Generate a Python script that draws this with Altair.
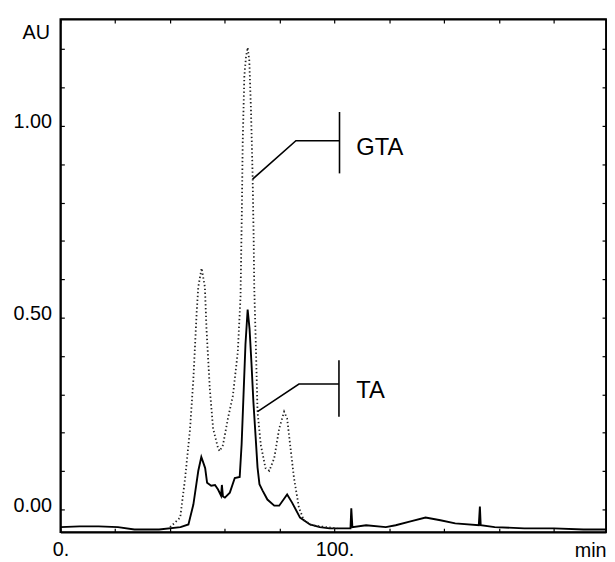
import altair as alt
import pandas as pd

# ---- data ----
ta_time = [0, 7, 14, 21, 27, 36, 43.8, 46.7, 48.5, 50.3, 51.4, 52.8, 53.5, 55.0, 56.4,
           57.5, 58.6, 58.9, 59.3, 60.0, 61.8, 63.6, 65.4, 66.1, 66.8, 67.5, 68.3, 69.0,
           69.7, 70.4, 71.2, 71.9, 72.6, 73.7, 75.5, 78.0, 79.8, 82.7, 84.5, 87.4, 91.0,
           94.6, 98.2, 104.3, 105.8, 106.1, 106.5, 111.5, 118.7, 122.3, 127.7, 133.2,
           138.6, 144.0, 152.6, 153.0, 153.3, 158.4, 169.2, 180.0, 190.8, 199]
ta_au = [-0.046, -0.044, -0.044, -0.046, -0.052, -0.052, -0.046, -0.039, 0.013, 0.101,
         0.137, 0.108, 0.070, 0.062, 0.064, 0.052, 0.036, 0.064, 0.034, 0.031, 0.044,
         0.082, 0.085, 0.170, 0.300, 0.430, 0.521, 0.470, 0.380, 0.280, 0.190, 0.110,
         0.066, 0.050, 0.026, 0.010, 0.010, 0.039, 0.018, -0.021, -0.039, -0.046,
         -0.049, -0.049, -0.049, 0.003, -0.046, -0.041, -0.046, -0.041, -0.031, -0.021,
         -0.028, -0.036, -0.041, 0.008, -0.041, -0.046, -0.049, -0.049, -0.052, -0.052]

gta_time = [40.0, 43.7, 45.5, 47.3, 48.5, 49.7, 50.3, 51.5, 52.7, 53.3, 54.5, 55.7, 57.5,
            58.1, 59.3, 61.1, 62.9, 64.7, 65.7, 66.2, 66.5, 67.1, 67.7, 68.3, 68.9, 69.5,
            70.1, 70.5, 70.7, 71.3, 71.9, 73.1, 74.8, 76.2, 78.0, 79.8, 81.6, 82.7, 83.8,
            85.2, 87.0, 88.8, 91.7, 97.1, 101.0]
gta_au = [-0.046, -0.021, 0.082, 0.211, 0.340, 0.513, 0.580, 0.629, 0.580, 0.469, 0.314,
          0.211, 0.160, 0.152, 0.168, 0.237, 0.296, 0.410, 0.554, 0.786, 0.959, 1.131,
          1.180, 1.204, 1.170, 1.044, 0.874, 0.701, 0.580, 0.425, 0.255, 0.168, 0.108,
          0.101, 0.134, 0.211, 0.255, 0.237, 0.168, 0.082, 0.005, -0.028, -0.041, -0.046,
          -0.049]

x_ticks = [0, 20, 40, 60, 80, 100, 120, 140, 160, 180]
y_ticks = [0.0, 0.1, 0.2, 0.3, 0.4, 0.5, 0.6, 0.7, 0.8, 0.9, 1.0, 1.1, 1.2]

# callout annotations (data units)
callout_names = ["GTA", "TA"]
callout_x = [[70.1, 85.9, 101.8], [71.9, 87.0, 101.6]]
callout_y = [[0.861, 0.961, 0.961], [0.255, 0.327, 0.327]]
bar_x = [101.8, 101.6]
bar_y1 = [0.876, 0.242]
bar_y2 = [1.036, 0.389]
label_x = [107.9, 107.9]
label_y = [0.943, 0.309]

X_DOMAIN = [0, 199]
Y_DOMAIN = [-0.059, 1.278]

ta_df = pd.DataFrame({"t": ta_time, "au": ta_au})
gta_df = pd.DataFrame({"t": gta_time, "au": gta_au})
call_rows = []
for name, xs_, ys_ in zip(callout_names, callout_x, callout_y):
    for i, (xx, yy) in enumerate(zip(xs_, ys_)):
        call_rows.append({"name": name, "i": i, "t": xx, "au": yy})
call_df = pd.DataFrame(call_rows)
bar_df = pd.DataFrame({"name": callout_names, "t": bar_x, "y1": bar_y1, "y2": bar_y2})
lab_df = pd.DataFrame({"name": callout_names, "t": label_x, "au": label_y})

xs = alt.Scale(domain=X_DOMAIN, nice=False, zero=False)
ys = alt.Scale(domain=Y_DOMAIN, nice=False, zero=False)

FONT = "Liberation Sans"
FRAME_W = 1.8

# frame + labels (bottom / left)
x_bottom = alt.Axis(orient="bottom", values=x_ticks,
                    labelExpr="datum.value == 0 || datum.value == 100 ? datum.value + '.' : ''",
                    ticks=False, tickSize=0, domain=True, domainColor="black",
                    domainWidth=FRAME_W, grid=False,
                    labelFontSize=20, labelFont=FONT, labelColor="black", labelPadding=8,
                    labelOverlap=False, labelFlush=False,
                    title="min", titleX=552, titleY=25, titleAlign="right",
                    titleBaseline="alphabetic", titleFontSize=20, titleFont=FONT,
                    titleFontWeight="normal", titleColor="black")
y_left = alt.Axis(orient="left", values=y_ticks,
                  labelExpr="datum.value == 0 || datum.value == 0.5 || datum.value == 1 ? format(datum.value, '.2f') : ''",
                  ticks=False, tickSize=0, domain=True, domainColor="black",
                  domainWidth=FRAME_W, grid=False,
                  labelFontSize=20, labelFont=FONT, labelColor="black", labelPadding=9,
                  labelOffset=-4, labelOverlap=False, labelFlush=False,
                  title="AU", titleAngle=0, titleAlign="right", titleBaseline="middle",
                  titleX=-11, titleY=13.5, titleFontSize=20, titleFont=FONT,
                  titleFontWeight="normal", titleColor="black")
# frame (top / right)
x_top = alt.Axis(orient="top", values=x_ticks, labels=False, ticks=False, tickSize=0,
                 domain=True, domainColor="black", domainWidth=FRAME_W, grid=False,
                 title=None)
y_right = alt.Axis(orient="right", values=y_ticks, labels=False, ticks=False, tickSize=0,
                   domain=True, domainColor="black", domainWidth=FRAME_W, grid=False,
                   title=None)


def inward(orient, vals):
    return alt.Axis(orient=orient, values=vals, labels=False, tickSize=4, offset=-4,
                    domain=False, grid=False, tickColor="black", tickWidth=1.2,
                    title=None)


ta_line = alt.Chart(ta_df).mark_line(color="black", strokeWidth=1.9).encode(
    x=alt.X("t:Q", scale=xs, axis=x_bottom),
    y=alt.Y("au:Q", scale=ys, axis=y_left),
)
gta_line = alt.Chart(gta_df).mark_line(color="#222222", strokeWidth=1.8,
                                       strokeDash=[1.4, 2.5]).encode(
    x=alt.X("t:Q", scale=xs, axis=x_top),
    y=alt.Y("au:Q", scale=ys, axis=y_right),
)
call_lines = alt.Chart(call_df).mark_line(color="black", strokeWidth=1.6).encode(
    x=alt.X("t:Q", scale=xs, axis=inward("bottom", x_ticks)),
    y=alt.Y("au:Q", scale=ys, axis=inward("left", y_ticks)),
    detail="name:N",
    order="i:Q",
)
bars = alt.Chart(bar_df).mark_rule(color="black", strokeWidth=1.6).encode(
    x=alt.X("t:Q", scale=xs, axis=inward("top", x_ticks)),
    y=alt.Y("y1:Q", scale=ys, axis=inward("right", y_ticks)),
    y2="y2:Q",
)
labels = alt.Chart(lab_df).mark_text(align="left", baseline="middle", fontSize=24,
                                     font=FONT, color="black").encode(
    x=alt.X("t:Q", scale=xs, axis=None),
    y=alt.Y("au:Q", scale=ys, axis=None),
    text="name:N",
)

chart = alt.layer(ta_line, gta_line, call_lines, bars, labels).resolve_axis(
    x="independent", y="independent"
).properties(
    width=552, height=519,
    background="white",
    autosize=alt.AutoSizeParams(type="none"),
    padding={"left": 53, "top": 8, "right": 1, "bottom": 34},
).configure_view(stroke="black", strokeWidth=FRAME_W)

chart.save("out.html", embed_options={"renderer": "svg", "actions": False})
